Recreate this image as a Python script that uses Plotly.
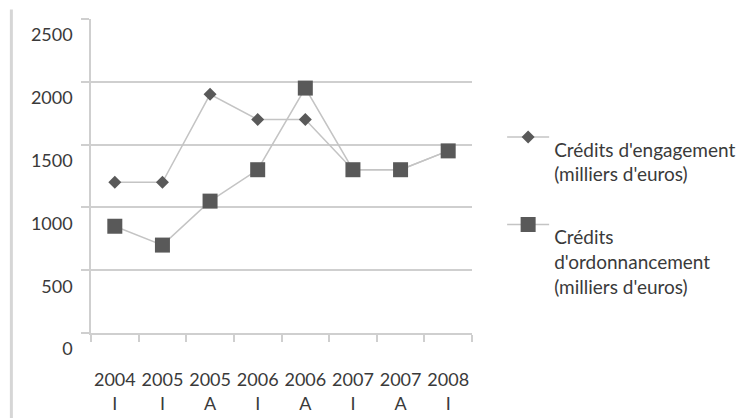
import plotly.graph_objects as go

# Periods (year / budget stage) and credit amounts in thousands of euros
periods = ["2004<br>I", "2005<br>I", "2005<br>A", "2006<br>I",
           "2006<br>A", "2007<br>I", "2007<br>A", "2008<br>I"]
engagement = [1200, 1200, 1900, 1700, 1700, 1300, 1300, 1450]
ordonnancement = [850, 700, 1050, 1300, 1950, 1300, 1300, 1450]

y_ticks = [0, 500, 1000, 1500, 2000, 2500]

name_engagement = "Crédits d'engagement<br>(milliers d'euros)"
name_ordonnancement = "Crédits<br>d'ordonnancement<br>(milliers d'euros)"

FONT = "Lato"
TEXT = "#3a3a3a"
MARK = "#595959"
LINE = "#c4c4c4"
GRID = "#cfcfcf"

fig = go.Figure()

# Blank leading lines place each legend symbol above its text block
fig.add_trace(go.Scatter(
    x=periods, y=engagement, mode="lines+markers",
    name="<br><br>" + name_engagement,
    line=dict(color=LINE, width=1.5),
    marker=dict(symbol="diamond", size=10, color=MARK),
    legend="legend",
))
fig.add_trace(go.Scatter(
    x=periods, y=ordonnancement, mode="lines+markers",
    name="<br><br><br>" + name_ordonnancement,
    line=dict(color=LINE, width=1.5),
    marker=dict(symbol="square", size=15, color=MARK),
    legend="legend2",
))

legend_common = dict(
    xref="container", x=0.674, xanchor="left",
    yref="container", yanchor="middle",
    font=dict(family=FONT, size=19, color=TEXT),
    bgcolor="rgba(0,0,0,0)", borderwidth=0,
    itemwidth=42, valign="middle", itemclick=False, itemdoubleclick=False,
)

fig.update_layout(
    width=745, height=418,
    margin=dict(l=91, r=273, t=19, b=85, autoexpand=False),
    paper_bgcolor="white", plot_bgcolor="white",
    font=dict(family=FONT, size=18, color=TEXT),
    showlegend=True,
    legend=dict(y=1 - 137 / 418, **legend_common),
    legend2=dict(y=1 - 225 / 418, **legend_common),
    xaxis=dict(
        type="category",
        showgrid=False,
        showline=True, linecolor=GRID, linewidth=1.5,
        ticks="outside", tickson="boundaries", ticklen=7,
        tickcolor=GRID, tickwidth=1.5,
        tickangle=0, automargin=False,
        ticklabelstandoff=30,
        tickfont=dict(family=FONT, size=18, color=TEXT),
        range=[-0.5, len(periods) - 0.5],
        fixedrange=True,
    ),
    yaxis=dict(
        range=[0, 2500],
        tickvals=y_ticks, ticktext=[str(v) for v in y_ticks],
        showgrid=True, gridcolor=GRID, gridwidth=1.5,
        showline=True, linecolor=GRID, linewidth=1.5,
        ticks="outside", ticklen=8, tickcolor=GRID, tickwidth=1.5,
        automargin=False,
        ticklabelshift=16, ticklabelstandoff=5,
        tickfont=dict(family=FONT, size=18, color=TEXT),
        zeroline=False,
        fixedrange=True,
    ),
    shapes=[dict(
        type="line", xref="paper", yref="paper",
        x0=-0.209, x1=-0.209, y0=1.03, y1=-0.3,
        line=dict(color="#d6d6d6", width=3),
    )],
)

fig.write_html("out.html")
